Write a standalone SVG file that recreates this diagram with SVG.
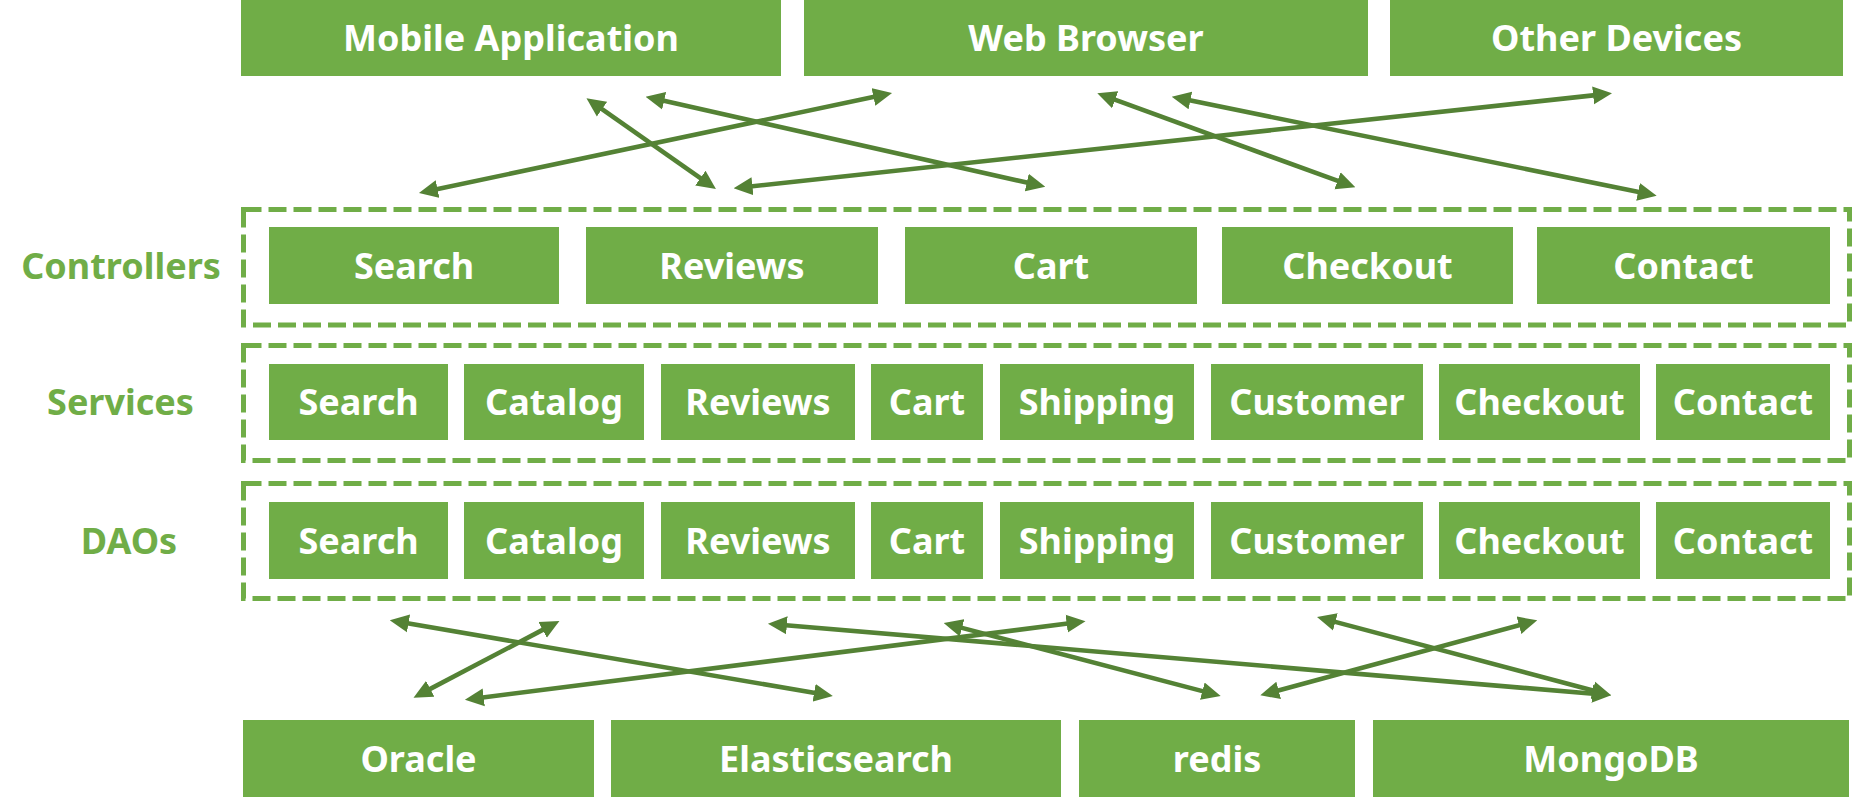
<svg xmlns="http://www.w3.org/2000/svg" width="1853" height="804" viewBox="0 0 1853 804">
<style>
.box{fill:#70AD47}
.bt{fill:#FFFFFF;font-family:"Noto Sans","Liberation Sans",sans-serif;font-weight:bold;font-size:36px;text-anchor:middle}
.lbl{fill:#70AD47;font-family:"Noto Sans","Liberation Sans",sans-serif;font-weight:bold;font-size:36px;text-anchor:middle}
.grp{fill:none;stroke:#70AD47;stroke-width:5;stroke-dasharray:18 7}
.con line{stroke:#548235;stroke-width:4.6;marker-start:url(#ah);marker-end:url(#ah)}
</style>
<defs>
<marker id="ah" markerUnits="userSpaceOnUse" markerWidth="19" markerHeight="19" viewBox="0 0 19 19" refX="7" refY="9.5" orient="auto-start-reverse">
<path d="M0,0.5 L19,9.5 L0,18.5 z" fill="#548235"/>
</marker>
</defs>
<rect width="1853" height="804" fill="#FFFFFF"/>

<g id="clients">
<g id="mobile"><rect class="box" x="241" y="0" width="540" height="76"/><text class="bt" x="511" y="51">Mobile Application</text></g>
<g id="web"><rect class="box" x="804" y="0" width="564" height="76"/><text class="bt" x="1086" y="51">Web Browser</text></g>
<g id="other"><rect class="box" x="1390" y="0" width="453" height="76"/><text class="bt" x="1616.5" y="51">Other Devices</text></g>
</g>

<g id="controllers">
<rect class="grp" x="243.5" y="209.5" width="1606" height="115.5"/>
<text class="lbl" x="121" y="278.5">Controllers</text>
<g id="c-search"><rect class="box" x="269" y="227" width="290" height="77"/><text class="bt" x="414" y="278.5">Search</text></g>
<g id="c-reviews"><rect class="box" x="586" y="227" width="292" height="77"/><text class="bt" x="732" y="278.5">Reviews</text></g>
<g id="c-cart"><rect class="box" x="905" y="227" width="292" height="77"/><text class="bt" x="1051" y="278.5">Cart</text></g>
<g id="c-checkout"><rect class="box" x="1222" y="227" width="291" height="77"/><text class="bt" x="1367.5" y="278.5">Checkout</text></g>
<g id="c-contact"><rect class="box" x="1537" y="227" width="293" height="77"/><text class="bt" x="1683.5" y="278.5">Contact</text></g>
</g>

<g id="services">
<rect class="grp" x="243.5" y="345.5" width="1606" height="115"/>
<text class="lbl" x="120.5" y="415">Services</text>
<g id="s-search"><rect class="box" x="269" y="364" width="179" height="76"/><text class="bt" x="358.5" y="415">Search</text></g>
<g id="s-catalog"><rect class="box" x="464" y="364" width="180" height="76"/><text class="bt" x="554" y="415">Catalog</text></g>
<g id="s-reviews"><rect class="box" x="661" y="364" width="194" height="76"/><text class="bt" x="758" y="415">Reviews</text></g>
<g id="s-cart"><rect class="box" x="871" y="364" width="112" height="76"/><text class="bt" x="927" y="415">Cart</text></g>
<g id="s-shipping"><rect class="box" x="1000" y="364" width="194" height="76"/><text class="bt" x="1097" y="415">Shipping</text></g>
<g id="s-customer"><rect class="box" x="1211" y="364" width="212" height="76"/><text class="bt" x="1317" y="415">Customer</text></g>
<g id="s-checkout"><rect class="box" x="1439" y="364" width="201" height="76"/><text class="bt" x="1539.5" y="415">Checkout</text></g>
<g id="s-contact"><rect class="box" x="1656" y="364" width="174" height="76"/><text class="bt" x="1743" y="415">Contact</text></g>
</g>

<g id="daos">
<rect class="grp" x="243.5" y="483.5" width="1606" height="115"/>
<text class="lbl" x="129" y="553.5">DAOs</text>
<g id="d-search"><rect class="box" x="269" y="502" width="179" height="77"/><text class="bt" x="358.5" y="553.5">Search</text></g>
<g id="d-catalog"><rect class="box" x="464" y="502" width="180" height="77"/><text class="bt" x="554" y="553.5">Catalog</text></g>
<g id="d-reviews"><rect class="box" x="661" y="502" width="194" height="77"/><text class="bt" x="758" y="553.5">Reviews</text></g>
<g id="d-cart"><rect class="box" x="871" y="502" width="112" height="77"/><text class="bt" x="927" y="553.5">Cart</text></g>
<g id="d-shipping"><rect class="box" x="1000" y="502" width="194" height="77"/><text class="bt" x="1097" y="553.5">Shipping</text></g>
<g id="d-customer"><rect class="box" x="1211" y="502" width="212" height="77"/><text class="bt" x="1317" y="553.5">Customer</text></g>
<g id="d-checkout"><rect class="box" x="1439" y="502" width="201" height="77"/><text class="bt" x="1539.5" y="553.5">Checkout</text></g>
<g id="d-contact"><rect class="box" x="1656" y="502" width="174" height="77"/><text class="bt" x="1743" y="553.5">Contact</text></g>
</g>

<g id="stores">
<g id="oracle"><rect class="box" x="243" y="720" width="351" height="77"/><text class="bt" x="418.5" y="771.5">Oracle</text></g>
<g id="elasticsearch"><rect class="box" x="611" y="720" width="450" height="77"/><text class="bt" x="836" y="771.5">Elasticsearch</text></g>
<g id="redis"><rect class="box" x="1079" y="720" width="276" height="77"/><text class="bt" x="1217" y="771.5">redis</text></g>
<g id="mongodb"><rect class="box" x="1373" y="720" width="476" height="77"/><text class="bt" x="1611" y="771.5">MongoDB</text></g>
</g>

<g id="connectors" class="con">
<line x1="430.7" y1="190.5" x2="880.3" y2="95.5"/>
<line x1="596.3" y1="105.2" x2="706.1" y2="182.1"/>
<line x1="657.3" y1="99.3" x2="1033.6" y2="184.1"/>
<line x1="745.5" y1="187.0" x2="1600.1" y2="94.6"/>
<line x1="1108.6" y1="97.4" x2="1344.1" y2="183.2"/>
<line x1="1183.5" y1="99.1" x2="1644.9" y2="193.3"/>
<line x1="401.6" y1="622.3" x2="821" y2="694"/>
<line x1="548.8" y1="626.6" x2="424.1" y2="692.1"/>
<line x1="476.8" y1="698.2" x2="1073.6" y2="622.8"/>
<line x1="779.9" y1="624.7" x2="1599.2" y2="694.3"/>
<line x1="955.3" y1="626.1" x2="1209.1" y2="692.9"/>
<line x1="1328.6" y1="620.1" x2="1599.6" y2="692.2"/>
<line x1="1525.7" y1="623.4" x2="1271.9" y2="692.2"/>
</g>
</svg>
